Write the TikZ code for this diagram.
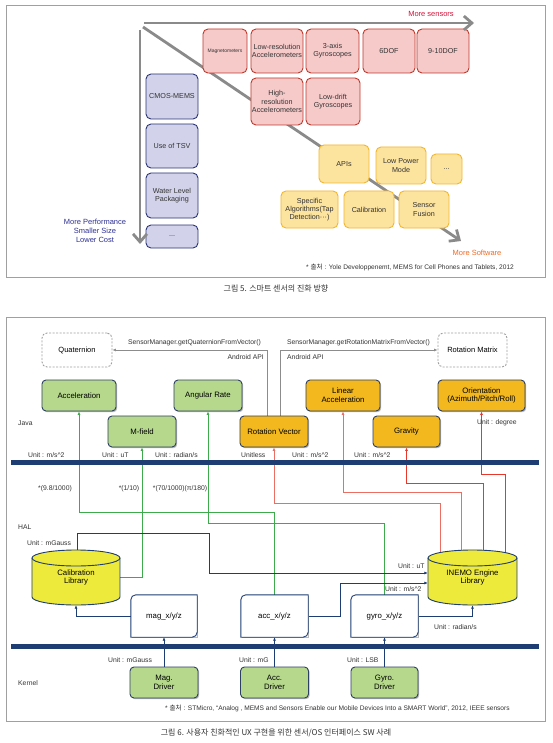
\documentclass[tikz,border=0pt]{standalone}
\usepackage{fontspec}
\setmainfont{Liberation Sans}
\newfontfamily\kr{Noto Sans CJK KR}
\usetikzlibrary{arrows.meta,calc,shadows}
\pgfdeclarelayer{bg}
\pgfdeclarelayer{paper}
\pgfsetlayers{paper,bg,main}
\definecolor{framegray}{HTML}{A0A0A0}
\definecolor{arrowgray}{HTML}{8A8A8A}
\definecolor{redf}{HTML}{F7CACA}
\definecolor{redd}{HTML}{C0392B}
\definecolor{bluef}{HTML}{D2D2EA}
\definecolor{blued}{HTML}{2B3575}
\definecolor{yelf}{HTML}{FCE39E}
\definecolor{yeld}{HTML}{F2B630}
\definecolor{sensred}{HTML}{D2143A}
\definecolor{softorange}{HTML}{F26A24}
\definecolor{perfblue}{HTML}{2E3192}
\definecolor{navyb}{HTML}{1E3D72}
\definecolor{boxline}{HTML}{2D3F63}
\definecolor{greenf}{HTML}{B5D88C}
\definecolor{orangef}{HTML}{F2B81E}
\definecolor{cylf}{HTML}{EEEA3C}
\definecolor{gline}{HTML}{3DAA4C}
\definecolor{rline}{HTML}{E8382C}
\definecolor{sline}{HTML}{EC6D62}
\definecolor{apigray}{HTML}{8C8C8C}
\definecolor{txt}{HTML}{333333}
\newcommand\docbox[1]{\draw[navyb, line width=0.9pt] (#1.south west) -- ([yshift=-5pt]#1.north west) arc[start angle=180,end angle=90,radius=5pt] -- (#1.north east) -- ([yshift=5pt]#1.south east) arc[start angle=0,end angle=-90,radius=5pt] -- cycle;}
\newcommand\cyl[4]{% cx, ytop, ybot, halfwidth
  \fill[cylf] (#1-#4,#2+8) rectangle (#1+#4,#3-8);
  \fill[cylf] (#1,#3-8) ellipse[x radius=#4pt, y radius=8pt];
  \draw[navyb, line width=0.9pt] (#1-#4,#2+8) -- (#1-#4,#3-8) arc[start angle=180,end angle=360,x radius=#4pt,y radius=8pt] -- (#1+#4,#2+8);
  \filldraw[fill=cylf, draw=navyb, line width=0.9pt] (#1,#2+8) ellipse[x radius=#4pt, y radius=8pt];}
\begin{document}
\begin{tikzpicture}[x=1pt,y=-1pt,
  font=\fontsize{7.2}{8.2}\selectfont,
  sz/.style 2 args={minimum width=#1pt, minimum height=#2pt},
  box/.style={rounded corners=5pt, line width=0.9pt, align=center, inner sep=1pt, text=txt},
  rbox/.style={box, draw=redd, fill=redf},
  bbox/.style={box, draw=blued, fill=bluef},
  ybox/.style={box, draw=yeld, fill=yelf},
  shad/.style={general shadow={fill=black!28, shadow xshift=1.2pt, shadow yshift=-1.2pt}},
  gbox/.style={box, draw=boxline, fill=greenf, text=black, font=\fontsize{7.8}{8.8}\selectfont, rounded corners=4pt, shad},
  obox/.style={gbox, fill=orangef},
  dbox/.style={box, draw=gray!75, dashed, dash pattern=on 2pt off 1.5pt, fill=white, text=black, font=\fontsize{7.5}{8.5}\selectfont},
  xbox/.style={fill=white, align=center, inner sep=1pt, font=\fontsize{7.8}{8.8}\selectfont},
  lbl/.style={inner sep=0pt, text=txt, font=\fontsize{6.8}{7.5}\selectfont},
  bigarrow/.style={draw=arrowgray, line width=2.8pt, -{Straight Barb[length=8pt,width=14pt]}},
  garrow/.style={draw=gline, line width=0.9pt, -{Latex[length=3.5pt,width=3pt]}},
  rarrow/.style={draw=rline, line width=0.9pt, -{Latex[length=3.5pt,width=3pt]}},
  sarrow/.style={draw=sline, line width=0.9pt, -{Latex[length=3.5pt,width=3pt]}},
  narrow/.style={draw=navyb, line width=0.9pt, -{Latex[length=3.5pt,width=3pt]}},
  aarrow/.style={draw=apigray, line width=0.7pt, -{Latex[length=3.5pt,width=3pt]}},
  bar/.style={fill=navyb}
]
\useasboundingbox (0,0) rectangle (552,743);
\begin{pgfonlayer}{paper}
\fill[white] (0,0) rectangle (552,743);
\end{pgfonlayer}

%================ Figure 5 ================
\draw[framegray, line width=0.8pt] (6,5) rectangle (545,277);

\node[rbox, sz={44}{44}, font=\fontsize{5}{6}\selectfont] (magn) at (225,51) {Magnetometers};
\node[rbox, sz={52}{44}] (lra) at (277,51) {Low-resolution\\Accelerometers};
\node[rbox, sz={53}{44}] (g3) at (332.5,51) {3-axis\\Gyroscopes};
\node[rbox, sz={52}{44}] (d6) at (389,51) {6DOF};
\node[rbox, sz={52}{44}] (d9) at (443,51) {9-10DOF};
\node[rbox, sz={52}{47}] (hra) at (277,101.5) {High-\\resolution\\Accelerometers};
\node[rbox, sz={54}{47}] (ldg) at (333,101.5) {Low-drift\\Gyroscopes};

\node[bbox, sz={52}{45}] (cmos) at (172,96.5) {CMOS-MEMS};
\node[bbox, sz={52}{44}] (tsv) at (172,146) {Use of TSV};
\node[bbox, sz={52}{45}] (wlp) at (172,195.5) {Water Level\\Packaging};
\node[bbox, sz={52}{23}] (bdots) at (172,236.5) {...};

\node[ybox, sz={50}{38}] (apis) at (344,164) {APIs};
\node[ybox, sz={50}{37}] (lpm) at (401,165.5) {Low Power\\Mode};
\node[ybox, sz={31}{30}] (ydots) at (446.5,169) {...};
\node[ybox, sz={57}{37}] (spec) at (309.5,209.5) {Specific\\Algorithms(Tap\\Detection···)};
\node[ybox, sz={50}{37}] (calb) at (369,209.5) {Calibration};
\node[ybox, sz={50}{37}] (sfus) at (424,209.5) {Sensor\\Fusion};

\coordinate (hs) at (144,23);
\coordinate (he) at (474,23);
\coordinate (vs) at (140,30);
\coordinate (ve) at (140,244);
\coordinate (ds) at (143,27);
\coordinate (de) at (461,241);
\draw[bigarrow] (hs) -- (he);
\draw[bigarrow] (vs) -- (ve);
\begin{pgfonlayer}{bg}
\draw[bigarrow] (ds) -- (de);
\end{pgfonlayer}

\node[lbl, text=sensred, font=\fontsize{7.5}{8}\selectfont] (msens) at (431,14) {More sensors};
\node[lbl, text=perfblue, align=center, font=\fontsize{7.5}{9}\selectfont] (mperf) at (95,231) {More Performance\\Smaller Size\\Lower Cost};
\node[lbl, text=softorange, font=\fontsize{7.5}{8}\selectfont] (msoft) at (477,253) {More Software};
\node[lbl, anchor=west, font=\fontsize{6.6}{7}\selectfont] (src5) at (306,267) {* {\kr 출처} : Yole Developpenemt, MEMS for Cell Phones and Tablets, 2012};
\node[lbl, font=\kr\fontsize{8}{9}\selectfont] (cap5) at (276,288) {그림 5. 스마트 센서의 진화 방향};

%================ Figure 6 ================
\draw[framegray, line width=0.8pt] (6,317) rectangle (545,721);

\node[dbox, sz={70}{34}] (quat) at (77,350) {Quaternion};
\node[dbox, sz={69}{34}] (rmat) at (472.5,350) {Rotation Matrix};

\node[gbox, sz={74}{31}] (accel) at (79,395.5) {Acceleration};
\node[gbox, sz={68}{31}] (angr) at (208,395.5) {Angular Rate};
\node[gbox, sz={68}{31}] (mfld) at (142,431.5) {M-field};
\node[obox, sz={68}{31}] (rotv) at (274,431.5) {Rotation Vector};
\node[obox, sz={74}{31}] (linacc) at (343,395.5) {Linear\\Acceleration};
\node[obox, sz={67}{31}] (grav) at (406.5,431.5) {Gravity};
\node[obox, sz={87}{31}] (orient) at (481.5,395.5) {Orientation\\(Azimuth/Pitch/Roll)};

\fill[bar] (11,460) rectangle (539,465);
\fill[bar] (11,644) rectangle (539,649);

% cylinders (named nodes)
\node[sz={88}{55}, inner sep=0pt] (calib) at (76,577.5) {};
\node[sz={89}{55}, inner sep=0pt] (inemo) at (472.5,577.5) {};
\cyl{76}{550}{605}{44}
\cyl{472.5}{550}{605}{44.5}
\node[align=center, font=\fontsize{7.8}{8.8}\selectfont] (calibt) at (calib) {Calibration\\Library};
\node[align=center, font=\fontsize{7.8}{8.8}\selectfont] (inemot) at (inemo) {INEMO Engine\\Library};

\node[xbox, sz={66}{42}, shad] (magxyz) at (164,616) {mag\_x/y/z};
\node[xbox, sz={67}{42}, shad] (accxyz) at (274.5,616) {acc\_x/y/z};
\node[xbox, sz={67}{42}, shad] (gyroxyz) at (384.5,616) {gyro\_x/y/z};
\docbox{magxyz}
\docbox{accxyz}
\docbox{gyroxyz}

\node[gbox, sz={68}{31}] (magdrv) at (164,682.5) {Mag.\\Driver};
\node[gbox, sz={68}{31}] (accdrv) at (274.5,682.5) {Acc.\\Driver};
\node[gbox, sz={67}{31}] (gyrodrv) at (384.5,682.5) {Gyro.\\Driver};

\coordinate (ct) at (77,558);
\coordinate (it1) at (440,558);
\coordinate (it2) at (461,558);
\coordinate (it3) at (483,558);
\coordinate (it4) at (505,558);

\begin{pgfonlayer}{bg}
% Android API
\draw[aarrow] ([xshift=-6.5pt]rotv.north) |- (quat.east);
\draw[aarrow] ([xshift=6.5pt]rotv.north) |- (rmat.west);
% green
\draw[garrow] (accxyz.north) -- ++(0,-82) -| (accel.south);
\draw[garrow] (gyroxyz.north) -- ++(0,-71) -| (angr.south);
\draw[garrow] (calib.east) -| (mfld.south);
% red
\draw[sarrow] (it1) -- ++(0,-55) -| (rotv.south);
\draw[sarrow] (it2) -- ++(0,-66) -| (linacc.south);
\draw[rarrow] (it3) -- ++(0,-75) -| (grav.south);
\draw[rarrow] (it4) -- ++(0,-84) -| (orient.south);
% navy
\draw[narrow] (ct) -- ++(0,-25) -| (209,573) -- (inemo.west |- 209,573);
\draw[narrow] (accxyz.east) -| (340,583) -- (inemo.west |- 340,583);
\draw[narrow] (gyroxyz.east) -| (inemo.south);
\draw[narrow] (magxyz.west) -| (calib.south);
\draw[narrow] (magdrv.north) -- (magxyz.south);
\draw[narrow] (accdrv.north) -- (accxyz.south);
\draw[narrow] (gyrodrv.north) -- (gyroxyz.south);
\end{pgfonlayer}

% labels
\node[lbl] (q1) at (194.5,343) {SensorManager.getQuaternionFromVector()};
\node[lbl, anchor=east] (q2) at (264,357) {Android API};
\node[lbl] (r1) at (358.5,343) {SensorManager.getRotationMatrixFromVector()};
\node[lbl, anchor=west] (r2) at (287,357) {Android API};
\node[lbl, anchor=west] (java) at (18,423) {Java};
\node[lbl, anchor=west] (udeg) at (477,423) {Unit : degree};
\node[lbl, anchor=west] (u1) at (28,455) {Unit : m/s\^{}2};
\node[lbl, anchor=west] (u2) at (102,455) {Unit : uT};
\node[lbl, anchor=west] (u3) at (155,455) {Unit : radian/s};
\node[lbl, anchor=west] (u4) at (241,455) {Unitless};
\node[lbl, anchor=west] (u5) at (292,455) {Unit : m/s\^{}2};
\node[lbl, anchor=west] (u6) at (354,455) {Unit : m/s\^{}2};
\node[lbl] (f1) at (55,489) {*(9.8/1000)};
\node[lbl] (f2) at (129,489) {*(1/10)};
\node[lbl] (f3) at (180,489) {*(70/1000)(π/180)};
\node[lbl, anchor=west] (hal) at (18,527) {HAL};
\node[lbl, anchor=west] (umg) at (27,543) {Unit : mGauss};
\node[lbl, anchor=west] (uut) at (398,566) {Unit : uT};
\node[lbl, anchor=west] (ums) at (385,589) {Unit : m/s\^{}2};
\node[lbl, anchor=west] (urad) at (434,627) {Unit : radian/s};
\node[lbl, anchor=west] (k1) at (108,660) {Unit : mGauss};
\node[lbl, anchor=west] (k2) at (239,660) {Unit : mG};
\node[lbl, anchor=west] (k3) at (347,660) {Unit : LSB};
\node[lbl, anchor=west] (kern) at (18,683) {Kernel};
\node[lbl, anchor=west, font=\fontsize{6.6}{7}\selectfont] (src6) at (165,708) {* {\kr 출처} : STMicro, “Analog , MEMS and Sensors Enable our Mobile Devices Into a SMART World”, 2012, IEEE sensors};
\node[lbl, font=\kr\fontsize{8}{9}\selectfont] (cap6) at (276,733) {그림 6. 사용자 친화적인 UX 구현을 위한 센서/OS 인터페이스 SW 사례};
\end{tikzpicture}
\end{document}
